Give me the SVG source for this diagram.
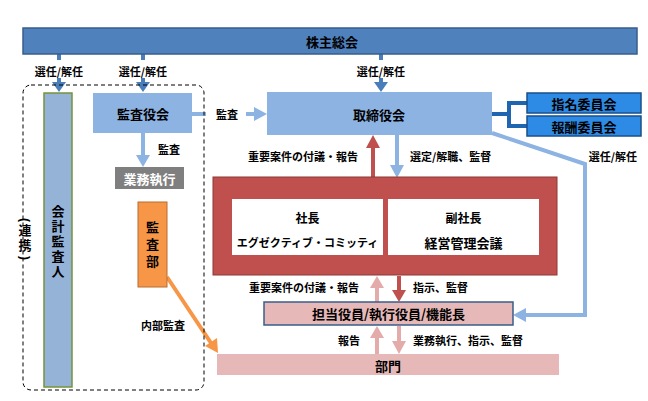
<svg xmlns="http://www.w3.org/2000/svg" width="648" height="401" viewBox="0 0 648 401">
<style>
text{font-family:"Noto Sans CJK JP","Noto Sans",sans-serif;font-weight:bold;fill:#000;dominant-baseline:central}
.c{text-anchor:middle}
.e{text-anchor:end}
.lbl{font-size:11px}
.box{font-size:13px}
.vt{writing-mode:vertical-rl;text-anchor:middle}
.par{font-family:"Liberation Sans",sans-serif;font-size:12px}
.ln{fill:none;stroke-width:4}
.lb{stroke:#8db3e2}
.rd{stroke:#c0504d}
.pk{stroke:#e3abaa}
</style>
<rect width="648" height="401" fill="#fff"/>

<g id="connectors">
  <!-- 株主総会 selections -->
  <g fill="#4a7ebb">
    <rect x="57" y="54" width="4" height="6"/><rect x="57" y="78" width="4" height="5"/><polygon points="52,82 66,82 59,92"/>
    <rect x="141" y="54" width="4" height="6"/><rect x="141" y="78" width="4" height="5"/><polygon points="136,82 150,82 143,92"/>
    <rect x="379" y="54" width="4" height="6"/><rect x="379" y="78" width="4" height="5"/><polygon points="374,82 388,82 381,92"/>
  </g>
  <text class="lbl c" x="59" y="71">選任/解任</text>
  <text class="lbl c" x="143" y="71">選任/解任</text>
  <text class="lbl c" x="381" y="71">選任/解任</text>

  <!-- 監査役会 -> 取締役会 -->
  <line class="ln lb" x1="192" y1="114" x2="206" y2="114"/>
  <text class="lbl c" x="227" y="114">監査</text>
  <line class="ln lb" x1="246" y1="114" x2="256" y2="114"/>
  <polygon points="254,107 254,121 267,114" fill="#8db3e2"/>

  <!-- 監査役会 -> 業務執行 -->
  <line class="ln lb" x1="143" y1="133" x2="143" y2="157"/>
  <polygon points="136,155 150,155 143,167" fill="#8db3e2"/>
  <text class="lbl c" x="169" y="149">監査</text>

  <!-- 取締役会 <-> committees -->
  <path d="M492,114 H509 M509,103 V126 M507,103 H527 M507,126 H527" fill="none" stroke="#1f65b0" stroke-width="4"/>

  <!-- 取締役会 -> 担当役員 (選任/解任) -->
  <polyline class="ln lb" points="492,133 585,164 585,315 525,315"/>
  <polygon points="526,308 526,322 513,315" fill="#8db3e2"/>
  <text class="lbl c" x="613" y="156">選任/解任</text>

  <!-- red box <-> 取締役会 -->
  <line class="ln rd" x1="373" y1="178" x2="373" y2="146"/>
  <polygon points="366,148 380,148 373,135" fill="#c0504d"/>
  <text class="lbl e" x="358" y="156">重要案件の付議・報告</text>
  <line class="ln lb" x1="397" y1="135" x2="397" y2="167"/>
  <polygon points="390,165 404,165 397,178" fill="#8db3e2"/>
  <text class="lbl" x="410" y="156">選定/解職、監督</text>

  <!-- red box <-> 担当役員 -->
  <line class="ln pk" x1="377" y1="302" x2="377" y2="287"/>
  <polygon points="370,288 384,288 377,276" fill="#e3abaa"/>
  <text class="lbl e" x="359" y="287">重要案件の付議・報告</text>
  <line class="ln rd" x1="399" y1="276" x2="399" y2="291"/>
  <polygon points="392,290 406,290 399,302" fill="#c0504d"/>
  <text class="lbl" x="413" y="287">指示、監督</text>

  <!-- 担当役員 <-> 部門 -->
  <line class="ln pk" x1="377" y1="354" x2="377" y2="337"/>
  <polygon points="370,338 384,338 377,326" fill="#e3abaa"/>
  <text class="lbl e" x="360" y="340">報告</text>
  <line class="ln pk" x1="399" y1="326" x2="399" y2="342"/>
  <polygon points="392,341 406,341 399,354" fill="#e3abaa"/>
  <text class="lbl" x="413" y="340">業務執行、指示、監督</text>

  <!-- 監査部 -> 部門 -->
  <line x1="167" y1="277" x2="211" y2="343" stroke="#f79646" stroke-width="4"/>
  <polygon points="205,346 217,338 218,353" fill="#f79646"/>
  <text class="lbl c" x="163" y="325">内部監査</text>
</g>

<g id="shareholders">
  <rect x="23" y="28" width="614" height="26" fill="#4f81bd" stroke="#385d8a" stroke-width="1.5"/>
  <text class="box c" x="332" y="41">株主総会</text>
</g>

<g id="audit-group">
  <rect x="23" y="85" width="181" height="305" rx="8" fill="none" stroke="#000" stroke-width="1" stroke-dasharray="4,3"/>
  <text class="par c" x="25" y="220" transform="rotate(90 25 220)">(</text>
  <text class="box vt" x="25" y="239" style="letter-spacing:2px">連携</text>
  <text class="par c" x="25" y="258" transform="rotate(90 25 258)">)</text>
</g>

<g id="accounting-auditor">
  <rect x="44" y="93" width="28" height="294" fill="#95b3d7" stroke="#77933c" stroke-width="1.5"/>
  <text class="box vt" x="58" y="242" style="letter-spacing:2px">会計監査人</text>
</g>

<g id="audit-board">
  <rect x="93" y="93" width="99" height="40" fill="#8db3e2"/>
  <text class="box c" x="143" y="113">監査役会</text>
</g>

<g id="business-execution">
  <rect x="115" y="167" width="69" height="22" fill="#7f7f7f"/>
  <text class="box c" x="149.5" y="178" style="fill:#fff">業務執行</text>
</g>

<g id="audit-dept">
  <rect x="138" y="202" width="29" height="85" fill="#f79646" stroke="#b66d31" stroke-width="1"/>
  <text class="box vt" x="152.5" y="246" style="letter-spacing:4px">監査部</text>
</g>

<g id="board">
  <rect x="267" y="92" width="225" height="43" fill="#8db3e2"/>
  <text class="box c" x="379" y="114">取締役会</text>
</g>

<g id="nomination-committee">
  <rect x="527" y="93" width="114" height="20" fill="#2e8be5" stroke="#1a4f8a" stroke-width="1.5"/>
  <text class="box c" x="584" y="103">指名委員会</text>
</g>
<g id="compensation-committee">
  <rect x="527" y="116" width="114" height="20" fill="#2e8be5" stroke="#1a4f8a" stroke-width="1.5"/>
  <text class="box c" x="584" y="126">報酬委員会</text>
</g>

<g id="executive">
  <rect x="213" y="177" width="344" height="98" fill="#c0504d" stroke="#8c3836" stroke-width="1"/>
  <g id="president">
    <rect x="232" y="199" width="151" height="56" fill="#fff"/>
    <text class="c" x="307.5" y="217" font-size="12">社長</text>
    <text class="c" x="307.5" y="242" font-size="11">エグゼクティブ・コミッティ</text>
  </g>
  <g id="vice-president">
    <rect x="388" y="199" width="151" height="56" fill="#fff"/>
    <text class="c" x="463.5" y="217" font-size="12">副社長</text>
    <text class="c" x="463.5" y="242" font-size="13">経営管理会議</text>
  </g>
</g>

<g id="officers">
  <rect x="264" y="302" width="249" height="23" fill="#e6b9b8" stroke="#385d8a" stroke-width="1.5"/>
  <text class="box c" x="388.5" y="313.5">担当役員/執行役員/機能長</text>
</g>

<g id="departments">
  <rect x="217" y="354" width="342" height="21" fill="#e6b9b8"/>
  <text class="box c" x="388" y="365">部門</text>
</g>
</svg>
